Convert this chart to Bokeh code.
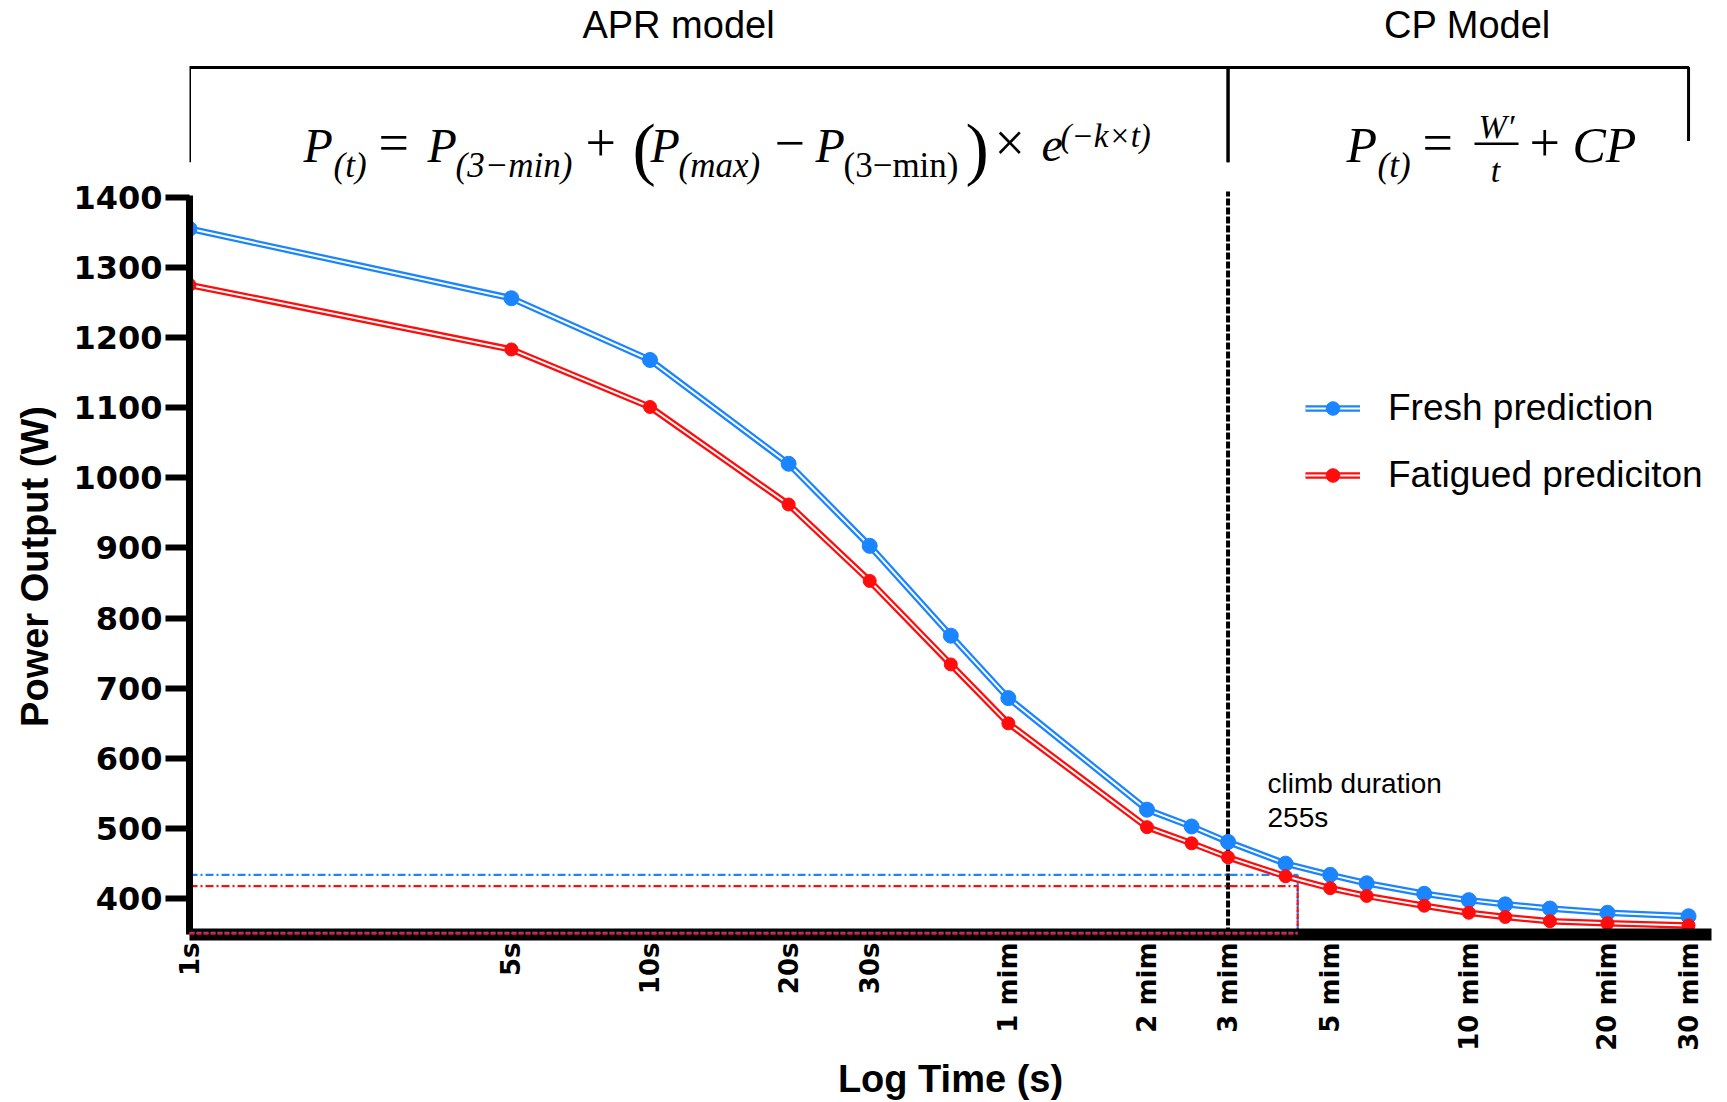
import math
from bokeh.plotting import figure
from bokeh.layouts import row
from bokeh.models import FixedTicker, Label, Legend, LegendItem, BoxAnnotation, Range1d
from bokeh.embed import file_html
from bokeh.resources import INLINE

# ---------------- data ----------------
time_s = [1, 5, 10, 20, 30, 45, 60, 120, 150, 180, 240, 300, 360, 480, 600, 720, 900, 1200, 1800]
fresh_w = [1355, 1256, 1168, 1020, 903, 775, 686, 527, 503, 481, 450, 434, 422, 407, 398, 392, 386, 380, 375]
fatigued_w = [1275, 1183, 1101, 962, 853, 734, 650, 502, 479, 459, 432, 415, 404, 390, 380, 374, 368, 365, 362]

x_ticks = [1, 5, 10, 20, 30, 60, 120, 180, 300, 600, 1200, 1800]
x_tick_labels = ["1s", "5s", "10s", "20s", "30s", "1 mim", "2 mim", "3 mim",
                 "5 mim", "10 mim", "20 mim", "30 mim"]
y_ticks = [400, 500, 600, 700, 800, 900, 1000, 1100, 1200, 1300, 1400]

climb_duration_s = 255
fresh_at_climb_w = 434
fatigued_at_climb_w = 418
model_switch_s = 180
model_edges_s = [1, 180, 1800]

series_names = ["Fresh prediction", "Fatigued prediciton"]
BLUE = "#1a85ff"
RED = "#ff0d0d"

# ---------------- layout ----------------
H = 1102
YW = 60                  # width of the y-title strip
W = 1719 - YW            # main figure width
FL = 189                 # page x of main frame left
BL = FL - YW
BR = 8
BT = 8
FB = 934                 # page y of main frame bottom
FRAME_H = FB - BT
BB = H - FB
FRAME_W = W - BL - BR
PX_PER_DECADE = 460.5
PX_PER_W = 0.7015
Y0 = 349
x_end = 10 ** (FRAME_W / PX_PER_DECADE)
y_end = Y0 + FRAME_H / PX_PER_W

SANS_MID = 0.3465
SERIF_MID = 0.3375

# ================= main chart =================
p = figure(width=W, height=H, x_axis_type="log",
           x_range=Range1d(1, x_end), y_range=Range1d(Y0, y_end),
           output_backend="svg", toolbar_location=None,
           min_border_left=BL, min_border_right=BR,
           min_border_top=BT, min_border_bottom=BB)
p.outline_line_color = None
p.grid.visible = False
p.background_fill_color = "white"
p.border_fill_color = "white"


def add_text(text, X, Y, size, style="normal", align="left", font="Liberation Serif"):
    """X: page x of anchor, Y: page y of the alphabetic baseline."""
    k = SERIF_MID if "Serif" in font else SANS_MID
    p.add_layout(Label(x=X - FL, y=FB - (Y - k * size), x_units="screen",
                       y_units="screen", text=text, text_font=font,
                       text_font_size=f"{size}px", text_font_style=style,
                       text_align=align, text_baseline="middle",
                       text_color="black"))


# x axis
xa = p.xaxis[0]
xa.ticker = FixedTicker(ticks=x_ticks, minor_ticks=[])
xa.major_label_overrides = {t: l for t, l in zip(x_ticks, x_tick_labels)}
xa.major_label_orientation = math.pi / 2
xa.major_tick_out = 0
xa.major_tick_in = 0
xa.major_tick_line_color = None
xa.minor_tick_line_color = None
xa.axis_line_width = 12
xa.axis_line_color = "black"
xa.major_label_text_font = "DejaVu Sans"
xa.major_label_text_font_style = "bold"
xa.major_label_text_font_size = "26px"
xa.major_label_text_color = "black"
xa.major_label_standoff = 8
xa.axis_label = "Log Time (s)"
xa.axis_label_text_font = "Liberation Sans"
xa.axis_label_text_font_style = "bold"
xa.axis_label_text_font_size = "38px"
xa.axis_label_text_color = "black"
xa.axis_label_standoff = 4

# y axis
ya = p.yaxis[0]
ya.ticker = FixedTicker(ticks=y_ticks, minor_ticks=[])
ya.bounds = (Y0, 1403)
ya.axis_line_width = 7
ya.axis_line_color = "black"
ya.major_tick_line_width = 6
ya.major_tick_line_color = "black"
ya.major_tick_out = 24
ya.major_tick_in = 0
ya.minor_tick_line_color = None
ya.major_label_text_font = "DejaVu Sans"
ya.major_label_text_font_style = "bold"
ya.major_label_text_font_size = "32px"
ya.major_label_text_color = "black"
ya.major_label_standoff = 3

# ---------------- model boxes ----------------
p.line([model_edges_s[0], model_edges_s[0], model_edges_s[1], model_edges_s[1]],
       [1450, 1585, 1585, 1450], line_color="black", line_width=3)
p.line([model_edges_s[1], model_edges_s[1], model_edges_s[2], model_edges_s[2]],
       [1450, 1585, 1585, 1480], line_color="black", line_width=3)

# model switch (3 min) dashed line
p.line([model_switch_s, model_switch_s], [Y0, 1408], line_color="black",
       line_width=4, line_dash="7 2")

# climb duration guides
for col, pw, off in [(BLUE, fresh_at_climb_w, 2.2), (RED, fatigued_at_climb_w, 1.2)]:
    p.line([1, climb_duration_s], [pw, pw], line_color=col, line_width=2.2,
           line_dash="8 3 2 3")
    p.line([climb_duration_s, climb_duration_s], [pw, Y0], line_color=col,
           line_width=2.2, line_dash="5 2")
    p.line([1, climb_duration_s], [Y0 + off, Y0 + off], line_color=col,
           line_width=2.2, line_dash="5 2", level="overlay")

# series
rends = []
for ys, col, ms in [(fresh_w, BLUE, 15), (fatigued_w, RED, 13)]:
    outer = p.line(time_s, ys, line_color=col, line_width=6.5)
    inner = p.line(time_s, ys, line_color="white", line_width=2)
    pts = p.scatter(time_s, ys, marker="circle", size=ms, fill_color=col,
                    line_color=col)
    rends.append([outer, inner, pts])

legend = Legend(items=[LegendItem(label=series_names[0], renderers=rends[0]),
                       LegendItem(label=series_names[1], renderers=rends[1])],
                location=(1305 - FL, FB - 495.5))
legend.border_line_color = None
legend.background_fill_alpha = 0
legend.padding = 0
legend.margin = 0
legend.spacing = 25
legend.glyph_width = 55
legend.glyph_height = 34
legend.label_height = 42
legend.label_standoff = 28
legend.label_text_font = "Liberation Sans"
legend.label_text_font_size = "37px"
legend.label_text_color = "black"
p.add_layout(legend)

# ---------------- texts ----------------
add_text("climb duration", 1267, 793, 28, font="Liberation Sans")
add_text("255s", 1267, 827, 28, font="Liberation Sans")
add_text("APR model", 678, 38, 38, align="center", font="Liberation Sans")
add_text("CP Model", 1467, 38, 38, align="center", font="Liberation Sans")

# APR formula
MB, SB = 161, 177
add_text("P", 303, MB, 48, "italic")
add_text("(t)", 333, SB, 35, "italic")
add_text("=", 378, MB, 54)
add_text("P", 427, MB, 48, "italic")
add_text("(3\u2212min)", 455, SB, 35, "italic")
add_text("+", 585, MB, 54)
add_text("(", 632, 172, 70)
add_text("P", 650, MB, 48, "italic")
add_text("(max)", 678, SB, 35, "italic")
add_text("\u2212", 774, MB, 54)
add_text("P", 815, MB, 48, "italic")
add_text("(3\u2212min)", 843, SB, 35)
add_text(")", 965, 172, 70)
add_text("\u00d7", 994, MB, 54)
add_text("e", 1041, MB, 48, "italic")
add_text("(\u2212k\u00d7t)", 1060, 147, 33, "italic")

# CP formula
add_text("P", 1346, MB, 50, "italic")
add_text("(t)", 1377, SB, 35, "italic")
add_text("=", 1422, MB, 54)
add_text("W\u2032", 1496, 137, 34, "italic", align="center")
add_text("t", 1495, 181, 34, "italic", align="center")
add_text("+", 1529, MB, 54)
add_text("CP", 1572, MB, 50, "italic")
p.add_layout(BoxAnnotation(left=1474 - FL, right=1518 - FL,
                           bottom=FB - 144.5, top=FB - 142,
                           left_units="screen", right_units="screen",
                           top_units="screen", bottom_units="screen",
                           fill_color="black", fill_alpha=1, line_color=None))

# ================= y-axis title strip =================
yfig = figure(width=YW, height=H, x_range=Range1d(0, 1), y_range=Range1d(0, 1),
              x_axis_location=None, y_axis_location=None,
              output_backend="svg", toolbar_location=None,
              min_border_left=0, min_border_right=0,
              min_border_top=BT, min_border_bottom=BB)
yfig.outline_line_color = None
yfig.grid.visible = False
yfig.background_fill_color = "white"
yfig.border_fill_color = "white"
yfig.add_layout(Label(x=34, y=FB - 566, x_units="screen", y_units="screen",
                      text="Power Output (W)", angle=math.pi / 2,
                      text_align="center", text_baseline="middle",
                      text_font="Liberation Sans", text_font_style="bold",
                      text_font_size="38px", text_color="black"))

layout = row(yfig, p, spacing=0)
open("out.html", "w").write(file_html(layout, INLINE))
